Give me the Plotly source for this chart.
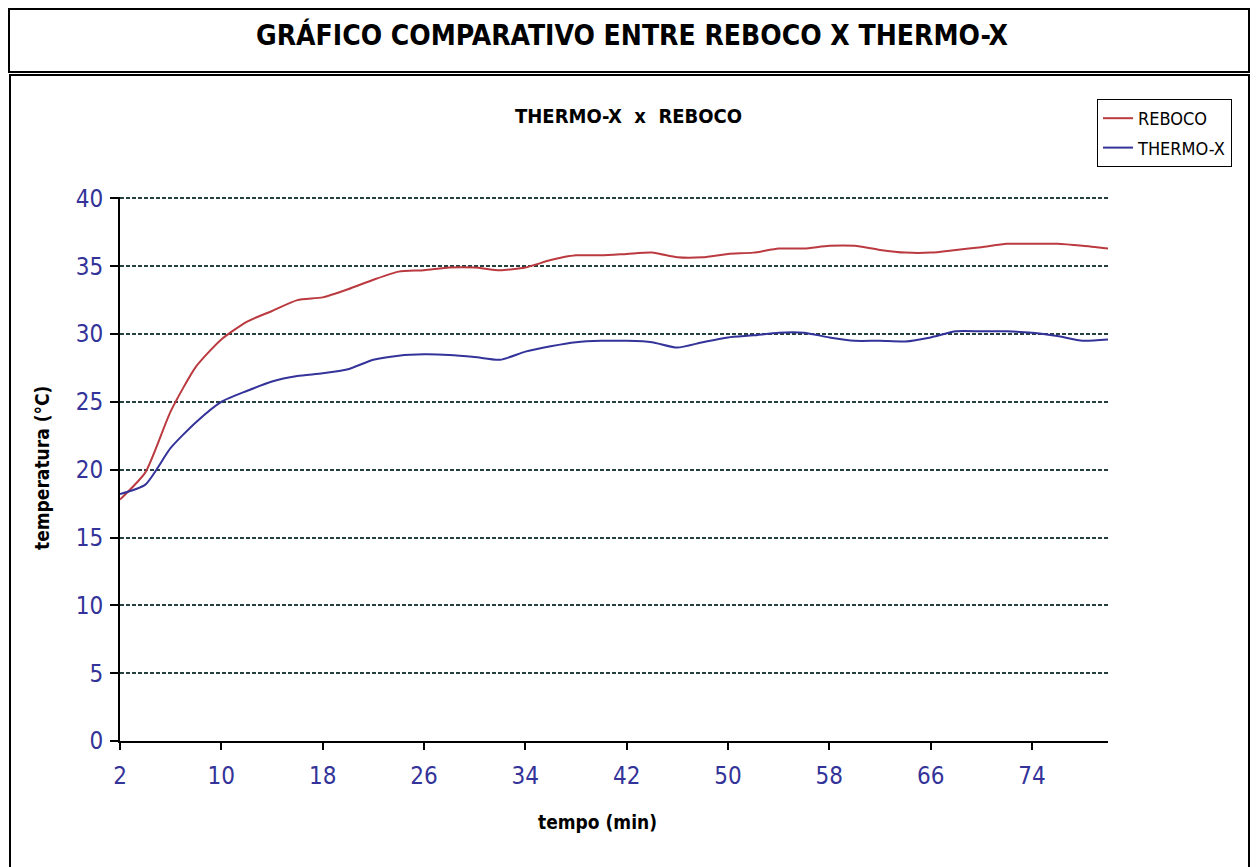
import plotly.graph_objects as go

# ---- data ----
tempo_min = list(range(2, 82, 2))
reboco = [17.8, 19.8, 24.3, 27.6, 29.6, 30.9, 31.7, 32.5, 32.7, 33.3,
          34.0, 34.6, 34.7, 34.9, 34.9, 34.7, 34.9, 35.45, 35.8, 35.8,
          35.9, 36.0, 35.65, 35.65, 35.9, 36.0, 36.3, 36.3, 36.5, 36.5,
          36.2, 36.0, 36.0, 36.2, 36.4, 36.65, 36.65, 36.65, 36.5, 36.3]
thermo_x = [18.2, 18.9, 21.6, 23.5, 25.0, 25.8, 26.5, 26.9, 27.1, 27.4,
            28.1, 28.4, 28.5, 28.45, 28.3, 28.1, 28.7, 29.1, 29.4, 29.5,
            29.5, 29.4, 29.0, 29.4, 29.75, 29.9, 30.1, 30.1, 29.75, 29.5,
            29.5, 29.45, 29.75, 30.2, 30.2, 30.2, 30.1, 29.85, 29.5, 29.6]
x_ticks = [2, 10, 18, 26, 34, 42, 50, 58, 66, 74]
y_ticks = [0, 5, 10, 15, 20, 25, 30, 35, 40]

OFF = 8  # page body margin
W, H = 1259 - OFF, 867 - OFF
Y_TOP = 40.1
# plot area in screen px
SL, SR, ST, SB = 120, 1108, 197, 741
L, R, T, B = SL - OFF, SR - OFF, ST - OFF, SB - OFF

NARROW = "Liberation Sans Narrow, Arial Narrow, DejaVu Sans Condensed, sans-serif"
TICK_BLUE = "#333399"


def px(x):
    return (x - SL) / (SR - SL)


def py(y):
    return (SB - y) / (SB - ST)


fig = go.Figure()
fig.add_trace(go.Scatter(x=tempo_min, y=reboco, name="REBOCO", mode="lines",
                         line=dict(color="#BA3A40", width=2, shape="spline", smoothing=0.6),
                         legendgroup="a"))
fig.add_trace(go.Scatter(x=tempo_min, y=thermo_x, name="THERMO-X", mode="lines",
                         line=dict(color="#33339A", width=2, shape="spline", smoothing=0.6),
                         legendgroup="b"))

fig.update_layout(
    width=W, height=H,
    margin=dict(l=L, r=W - R, t=T, b=H - B, autoexpand=False),
    paper_bgcolor="white", plot_bgcolor="white",
    font=dict(family=NARROW, color="black"),
    showlegend=True,
    legend=dict(x=px(1097), y=py(99), xanchor="left", yanchor="top",
                bgcolor="white", bordercolor="black", borderwidth=1,
                font=dict(family=NARROW, size=18, color="black"),
                traceorder="grouped", tracegroupgap=3, itemwidth=30),
    xaxis=dict(range=[2, 80], tickmode="array", tickvals=x_ticks,
               ticktext=[str(v) for v in x_ticks],
               showgrid=False, zeroline=False,
               showline=True, linecolor="black", linewidth=2,
               ticks="outside", ticklen=7, tickwidth=1.5, tickcolor="black",
               ticklabelstandoff=5,
               tickfont=dict(family=NARROW, size=24, color=TICK_BLUE)),
    yaxis=dict(range=[0, Y_TOP], tickmode="array", tickvals=y_ticks,
               showgrid=True, gridcolor="#24403F", gridwidth=1.6, griddash="4px,2px",
               zeroline=False,
               showline=True, linecolor="black", linewidth=2,
               ticks="outside", ticklen=8, tickwidth=1.5, tickcolor="black",
               ticklabelstandoff=2,
               tickfont=dict(family=NARROW, size=24, color=TICK_BLUE)),
)

shapes = [
    # title box
    dict(type="rect", xref="paper", yref="paper",
         x0=px(OFF + 1), x1=px(1249), y0=py(OFF + 1), y1=py(72),
         line=dict(color="black", width=2), fillcolor="rgba(0,0,0,0)", layer="below"),
    # chart box
    dict(type="rect", xref="paper", yref="paper",
         x0=px(OFF + 2), x1=px(1249), y0=py(75), y1=py(885),
         line=dict(color="black", width=2), fillcolor="rgba(0,0,0,0)", layer="below"),
]
fig.update_layout(shapes=shapes)

annotations = [
    dict(text="<b>GRÁFICO COMPARATIVO ENTRE REBOCO X THERMO-X</b>", xref="paper", yref="paper",
         x=px(632), y=py(35), xanchor="center", yanchor="middle", showarrow=False,
         font=dict(family=NARROW, size=28, color="black")),
    dict(text="<b>THERMO-X  x  REBOCO</b>", xref="paper", yref="paper",
         x=px(628), y=py(116), xanchor="center", yanchor="middle", showarrow=False,
         font=dict(family=NARROW, size=20, color="black")),
    dict(text="<b>tempo (min)</b>", xref="paper", yref="paper",
         x=px(597), y=py(822), xanchor="center", yanchor="middle", showarrow=False,
         font=dict(family=NARROW, size=19, color="black")),
    dict(text="<b>temperatura (°C)</b>", xref="paper", yref="paper",
         x=px(42), y=py(468), xanchor="center", yanchor="middle", showarrow=False,
         textangle=-90, font=dict(family=NARROW, size=19, color="black")),
]
fig.update_layout(annotations=annotations)

fig.write_html("out.html")
